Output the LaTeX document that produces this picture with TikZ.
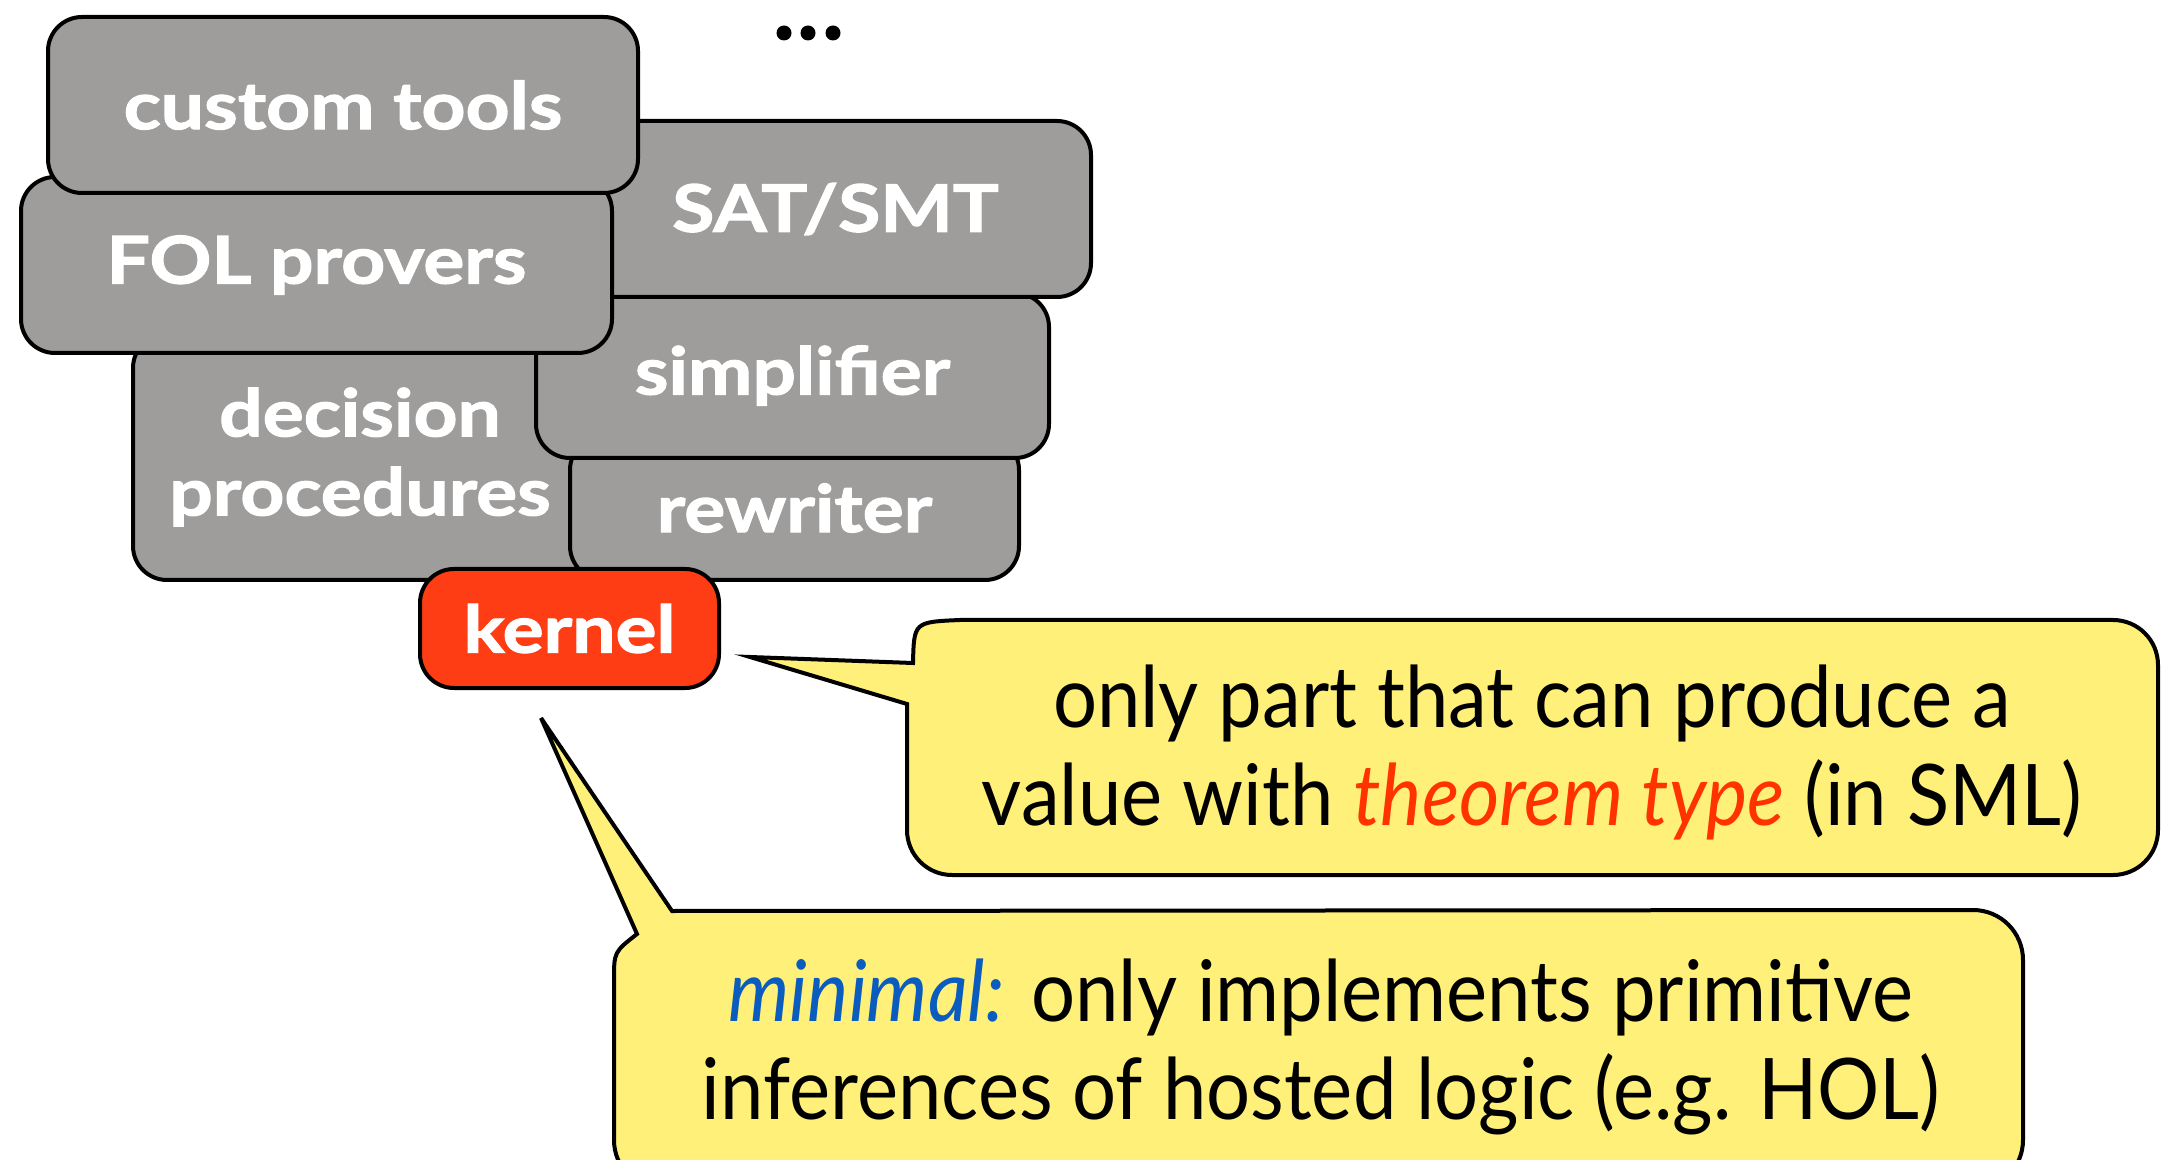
\documentclass[tikz,border=0pt]{standalone}
\usepackage{fontspec}
\setmainfont{Lato}
\newfontfamily\boxfont{Lato}[BoldFeatures={FakeStretch=1.17,FakeBold=1.8}]
\newfontfamily\callfont{Lato}[FakeStretch=0.915]
\usetikzlibrary{calc}
\definecolor{boxgray}{RGB}{158,157,155}
\definecolor{kernred}{RGB}{255,61,20}
\definecolor{callyellow}{RGB}{255,240,122}
\definecolor{minblue}{RGB}{10,92,190}
\definecolor{thmred}{RGB}{255,50,0}
\begin{document}
\begin{tikzpicture}[x=0.5pt,y=0.5pt,
  tool/.style={draw=black, line width=2pt, fill=boxgray, rounded corners=17pt,
    text=white, font=\boxfont\bfseries\fontsize{32.8}{39.5}\selectfont,
    align=center, inner sep=0pt},
  kern/.style={tool, fill=kernred},
  callout/.style={draw=black, line width=2pt, fill=callyellow, line join=miter},
  calltext/.style={font=\callfont\fontsize{42.5}{49}\selectfont, align=center, inner sep=0pt}]
\useasboundingbox (0,0) rectangle (2165,-1160);
% gray tool boxes, back to front
\node[tool, minimum width=227pt, minimum height=123pt] (dec) at (360,-457) {decision\\procedures};
\node[tool, minimum width=224.5pt, minimum height=72pt] (rew) at (794.5,-508) {rewriter};
\node[tool, minimum width=256.5pt, minimum height=82.5pt] (simp) at (792.5,-375.5) {simplifier};
\node[tool, minimum width=255.5pt, minimum height=88pt] (sat) at (835.5,-209) {SAT/SMT};
\node[tool, minimum width=295.5pt, minimum height=88pt] (fol) at (316.5,-265) {FOL provers};
\node[tool, minimum width=295pt, minimum height=88pt] (cust) at (343,-105) {custom tools};
\node[kern, minimum width=149.5pt, minimum height=59.5pt] (kernel) at (569.5,-628.5) {kernel};
% dots
\fill (784,-33) circle (7.5) (808,-33) circle (7.5) (833,-33) circle (7.5);
% callout 1
\coordinate (tip1) at (750,-657);
\draw[callout] (907,-704) -- (tip1) -- (913,-663) .. controls (914,-622) .. (960,-620)
  -- (2113,-620) arc[start angle=90,end angle=0,radius=45]
  -- (2158,-830) arc[start angle=0,end angle=-90,radius=45]
  -- (952,-875) arc[start angle=-90,end angle=-180,radius=45] -- cycle;
\node[calltext] (c1) at (1532,-752) {only part that can produce a\\value with \textcolor{thmred}{\itshape theorem type} (in SML)};
% callout 2
\coordinate (tip2) at (541,-718);
\draw[callout] (614,-980) .. controls (614,-952) .. (637,-934) -- (tip2) -- (672,-911)
  -- (1973,-910) arc[start angle=90,end angle=0,radius=50]
  -- (2023,-1140) arc[start angle=0,end angle=-90,radius=50]
  -- (664,-1190) arc[start angle=-90,end angle=-180,radius=50] -- cycle;
\node[calltext] (c2) at (1321,-1047) {\textcolor{minblue}{\itshape minimal:} only implements primitive\\inferences of hosted logic (e.g. HOL)};
\end{tikzpicture}
\end{document}
